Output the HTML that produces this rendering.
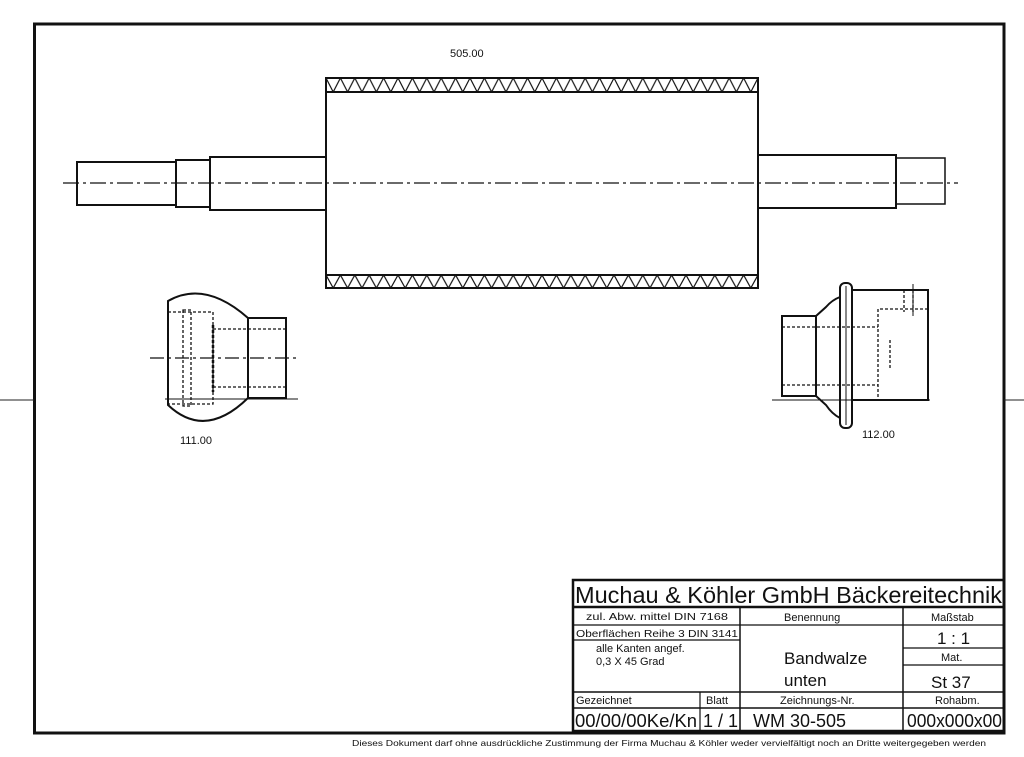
<!DOCTYPE html>
<html><head><meta charset="utf-8"><style>
html,body{margin:0;padding:0;background:#fff;}
svg{display:block;}
text{font-family:"Liberation Sans",Arial,sans-serif;fill:#111;}
</style></head><body>
<svg width="1024" height="757" viewBox="0 0 1024 757" xmlns="http://www.w3.org/2000/svg">
<defs>
<pattern id="hp" patternUnits="userSpaceOnUse" x="326" y="78" width="14.4" height="14">
<path d="M0,0 L7.2,14 L14.4,0" stroke="#111" stroke-width="1.2" fill="none"/>
</pattern>
<pattern id="hp2" patternUnits="userSpaceOnUse" x="326" y="275" width="14.4" height="13">
<path d="M0,0 L7.2,13 L14.4,0" stroke="#111" stroke-width="1.2" fill="none"/>
</pattern>
</defs>
<rect x="0" y="0" width="1024" height="757" fill="#fff"/>
<rect x="34.5" y="24" width="969.5" height="709" fill="none" stroke="#111" stroke-width="3"/>
<line x1="0" y1="400" x2="34" y2="400" stroke="#222" stroke-width="1"/>
<line x1="1004" y1="400" x2="1024" y2="400" stroke="#222" stroke-width="1"/>

<text x="450" y="57" font-size="11">505.00</text>

<rect x="326" y="78" width="432" height="14" fill="url(#hp)"/>
<rect x="326" y="275" width="432" height="13" fill="url(#hp2)"/>
<g stroke="#111" fill="none" stroke-width="2">
<rect x="77" y="162" width="99" height="43"/>
<rect x="176" y="160" width="34" height="47"/>
<rect x="210" y="157" width="116" height="53"/>
<rect x="326" y="78" width="432" height="210"/>
<line x1="326" y1="92" x2="758" y2="92"/>
<line x1="326" y1="275" x2="758" y2="275"/>
<rect x="758" y="155" width="138" height="53"/>
<rect x="896" y="158" width="49" height="46" stroke-width="1.5"/>
</g>
<line x1="63" y1="183" x2="958" y2="183" stroke="#111" stroke-width="1.2" stroke-dasharray="16,4,3,4"/>

<g stroke="#111" fill="none" stroke-width="2">
<path d="M168,301 Q205,280 248,318 L248,398 Q205,440 168,405 Z"/>
<rect x="248" y="318" width="38" height="80"/>
</g>
<g stroke="#111" fill="none" stroke-width="1.3" stroke-dasharray="3,2">
<rect x="168" y="312" width="45" height="92"/>
<rect x="183" y="310" width="8" height="96"/>
<line x1="213" y1="329" x2="286" y2="329"/>
<line x1="213" y1="387" x2="286" y2="387"/>
<line x1="213" y1="325" x2="213" y2="392" stroke-width="2.5"/>
</g>
<line x1="150" y1="358" x2="298" y2="358" stroke="#111" stroke-width="1.2" stroke-dasharray="14,4,3,4"/>
<line x1="165" y1="399" x2="298" y2="399" stroke="#111" stroke-width="1"/>
<text x="180" y="444" font-size="11">111.00</text>

<g stroke="#111" fill="none" stroke-width="2">
<rect x="782" y="316" width="34" height="80"/>
<path d="M816,316 L826,307 Q832,300 840,297"/>
<path d="M816,396 L826,405 Q832,414 840,418"/>
<rect x="840" y="283" width="12" height="145" rx="5"/>
<line x1="846" y1="286" x2="846" y2="425" stroke-width="1"/>
<polyline points="852,290 928,290 928,400 852,400"/>
</g>
<line x1="772" y1="400" x2="930" y2="400" stroke="#111" stroke-width="1"/>
<g stroke="#111" fill="none" stroke-width="1.3" stroke-dasharray="3,2">
<line x1="782" y1="327" x2="878" y2="327"/>
<line x1="782" y1="385" x2="878" y2="385"/>
<polyline points="928,309 878,309 878,400"/>
<line x1="904" y1="290" x2="904" y2="312"/>
<line x1="913" y1="290" x2="913" y2="312"/>
<line x1="890" y1="340" x2="890" y2="370"/>
</g>
<line x1="913" y1="284" x2="913" y2="316" stroke="#111" stroke-width="1"/>
<text x="862" y="438" font-size="11">112.00</text>

<g stroke="#111" fill="none">
<rect x="573" y="580" width="431" height="151" stroke-width="2.5"/>
<line x1="573" y1="607" x2="1004" y2="607" stroke-width="2.5"/>
<line x1="740" y1="607" x2="740" y2="731" stroke-width="1.5"/>
<line x1="903" y1="607" x2="903" y2="731" stroke-width="1.5"/>
<line x1="573" y1="625" x2="1004" y2="625" stroke-width="1.2"/>
<line x1="573" y1="640" x2="740" y2="640" stroke-width="1.2"/>
<line x1="903" y1="648" x2="1004" y2="648" stroke-width="1.2"/>
<line x1="903" y1="665" x2="1004" y2="665" stroke-width="1.2"/>
<line x1="573" y1="692" x2="1004" y2="692" stroke-width="1.5"/>
<line x1="573" y1="708" x2="1004" y2="708" stroke-width="1.5"/>
<line x1="700" y1="692" x2="700" y2="731" stroke-width="1.2"/>
</g>
<text x="575" y="603" font-size="23" textLength="427" lengthAdjust="spacingAndGlyphs">Muchau &amp; Köhler GmbH Bäckereitechnik</text>
<text x="586" y="620" font-size="10.5" textLength="142" lengthAdjust="spacingAndGlyphs">zul. Abw. mittel DIN 7168</text>
<text x="576" y="637" font-size="10.5" textLength="162" lengthAdjust="spacingAndGlyphs">Oberflächen Reihe 3 DIN 3141</text>
<text x="596" y="652" font-size="11">alle Kanten angef.</text>
<text x="596" y="665" font-size="11">0,3 X 45 Grad</text>
<text x="784" y="621" font-size="11">Benennung</text>
<text x="784" y="664" font-size="17">Bandwalze</text>
<text x="784" y="686" font-size="17">unten</text>
<text x="931" y="621" font-size="11">Maßstab</text>
<text x="937" y="644" font-size="17">1 : 1</text>
<text x="941" y="661" font-size="11">Mat.</text>
<text x="931" y="688" font-size="17">St 37</text>
<text x="576" y="704" font-size="11">Gezeichnet</text>
<text x="706" y="704" font-size="11">Blatt</text>
<text x="780" y="704" font-size="11">Zeichnungs-Nr.</text>
<text x="935" y="704" font-size="11">Rohabm.</text>
<text x="575" y="727" font-size="18" textLength="122" lengthAdjust="spacingAndGlyphs">00/00/00Ke/Kn</text>
<text x="703" y="727" font-size="18">1 / 1</text>
<text x="753" y="727" font-size="18">WM 30-505</text>
<text x="907" y="727" font-size="18" textLength="95" lengthAdjust="spacingAndGlyphs">000x000x00</text>
<text x="352" y="746" font-size="8.5" textLength="634" lengthAdjust="spacingAndGlyphs">Dieses Dokument darf ohne ausdrückliche Zustimmung der Firma Muchau &amp; Köhler weder vervielfältigt noch an Dritte weitergegeben werden</text>
</svg>
</body></html>
